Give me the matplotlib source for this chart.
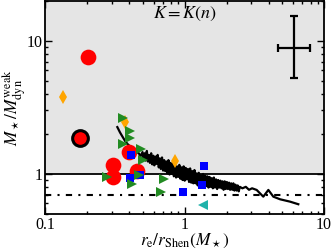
import matplotlib
matplotlib.use("Agg")
import matplotlib.pyplot as plt


# data
red_x = [0.203, 0.307, 0.307, 0.402, 0.454]
red_y = [7.58, 1.17, 0.954, 1.47, 1.05]
red_edge_x = [0.178]
red_edge_y = [1.87]

blue_x = [0.413, 0.407, 0.480, 0.971, 1.38, 1.33]
blue_y = [1.39, 0.938, 0.983, 0.732, 1.15, 0.827]

green_x = [0.360, 0.407, 0.407, 0.360, 0.485, 0.501, 0.280, 0.474, 0.423, 0.713, 0.679]
green_y = [2.65, 2.11, 1.86, 1.67, 1.53, 1.27, 0.954, 0.983, 0.837, 0.917, 0.726]

orange_x = [0.135, 0.374, 0.855]
orange_y = [3.81, 2.47, 1.25]

cyan_x = [1.35]
cyan_y = [0.585]

# the noisy black curve
curve_x = [0.330, 0.345, 0.360, 0.375, 0.390, 0.410, 0.430, 0.450, 0.470, 0.485,
           0.500, 0.509, 0.518, 0.527, 0.537, 0.547, 0.556, 0.566, 0.577, 0.587,
           0.598, 0.608, 0.619, 0.631, 0.642, 0.654, 0.665, 0.677, 0.690, 0.702,
           0.715, 0.727, 0.741, 0.754, 0.767, 0.781, 0.795, 0.810, 0.824, 0.839,
           0.854, 0.870, 0.885, 0.901, 0.918, 0.934, 0.951, 0.968, 0.986, 1.003,
           1.021, 1.040, 1.058, 1.078, 1.097, 1.117, 1.137, 1.157, 1.178, 1.199,
           1.221, 1.243, 1.265, 1.288, 1.311, 1.335, 1.359, 1.383, 1.408, 1.434,
           1.459, 1.486, 1.512, 1.540, 1.567, 1.596, 1.624, 1.653, 1.683, 1.713,
           1.744, 1.776, 1.808, 1.840, 1.873, 1.907, 1.941, 1.976, 2.012, 2.048,
           2.085, 2.122, 2.160, 2.199, 2.239, 2.279, 2.320, 2.362, 2.404, 2.447,
           2.491, 2.60, 2.75, 2.90, 3.05, 3.29, 3.67, 3.99, 4.33, 4.84,
           5.71, 6.54]
curve_y = [2.25, 2.05, 1.90, 1.77, 1.68, 1.60, 1.52, 1.47, 1.43, 1.36,
           1.46, 1.29, 1.43, 1.26, 1.49, 1.24, 1.39, 1.21, 1.43, 1.18,
           1.37, 1.16, 1.35, 1.19, 1.39, 1.12, 1.31, 1.09, 1.33, 1.06,
           1.27, 1.05, 1.24, 1.01, 1.27, 0.99, 1.21, 1.00, 1.20, 0.96,
           1.19, 0.94, 1.14, 0.95, 1.17, 0.92, 1.12, 0.90, 1.14, 0.89,
           1.11, 0.91, 1.09, 0.87, 1.10, 0.86, 1.05, 0.85, 1.07, 0.85,
           1.01, 0.82, 1.02, 0.81, 0.98, 0.83, 1.00, 0.80, 0.97, 0.81,
           0.96, 0.79, 0.95, 0.80, 0.93, 0.78, 0.94, 0.79, 0.91, 0.77,
           0.90, 0.79, 0.89, 0.78, 0.88, 0.76, 0.88, 0.77, 0.87, 0.77,
           0.86, 0.76, 0.85, 0.76, 0.85, 0.75, 0.83, 0.75, 0.82, 0.74,
           0.80, 0.78, 0.80, 0.76, 0.78, 0.758, 0.675, 0.758, 0.675, 0.645,
           0.619, 0.592]

# typical error bar, drawn as a cross
err_x = [6.06]
err_y = [8.9]
err_xlo = [6.06 - 4.66]
err_xhi = [7.94 - 6.06]
err_ylo = [8.9 - 5.25]
err_yhi = [15.5 - 8.9]

ref_line = 1.0
dashdot_line = 0.7


def main():
    plt.rcParams["font.family"] = "serif"
    plt.rcParams["font.serif"] = ["Liberation Serif", "DejaVu Serif"]
    plt.rcParams["mathtext.fontset"] = "stix"

    fig = plt.figure(figsize=(3.32, 2.49), dpi=100)
    ax = fig.add_axes([0.1355, 0.1406, 0.8405, 0.856])
    ax.set_xscale("log")
    ax.set_yscale("log")
    ax.set_xlim(0.1, 10)
    ax.set_ylim(0.5, 20)

    # grey area above 1
    ax.axhspan(ref_line, 20, color="#e5e5e5", lw=0, zorder=0)
    ax.axhline(ref_line, color="black", lw=1.3, zorder=1)
    ax.axhline(dashdot_line, color="black", lw=1.5,
               linestyle=(0, (3, 3, 1, 3)), zorder=1)

    ax.plot(curve_x, curve_y, color="black", lw=1.6, zorder=2)

    ax.plot(red_x, red_y, "o", color="red", ms=11.3, mew=0, zorder=3)
    ax.plot(red_edge_x, red_edge_y, "o", color="red", ms=11.3,
            mec="black", mew=2.2, zorder=3)
    ax.plot(orange_x, orange_y, "d", color="orange", ms=7.5, mew=0, zorder=4)
    ax.plot(blue_x, blue_y, "s", color="blue", ms=6, mew=0, zorder=5)
    ax.plot(green_x, green_y, ">", color="forestgreen", ms=7, mew=0, zorder=6)
    ax.plot(cyan_x, cyan_y, "<", color="lightseagreen", ms=6.5, mew=0, zorder=6)

    ax.errorbar(err_x, err_y, xerr=[err_xlo, err_xhi], yerr=[err_ylo, err_yhi],
                fmt="none", ecolor="black", elinewidth=1.6, capsize=3,
                capthick=1.6, zorder=6)

    ax.text(0.5, 0.94, r"$K = K(n)$", transform=ax.transAxes,
            ha="center", va="center", fontsize=13)

    ax.set_xticks([0.1, 1, 10])
    ax.set_xticklabels(["0.1", "1", "10"])
    ax.set_yticks([1, 10])
    ax.set_yticklabels(["1", "10"])
    ax.tick_params(which="both", direction="in", top=True, right=True,
                   labelsize=11.5, width=1.0)
    ax.tick_params(which="major", length=5, pad=2)
    ax.tick_params(which="minor", length=2.5)
    for side in ax.spines.values():
        side.set_linewidth(1.3)

    ax.set_xlabel(r"$r_{\rm e}/r_{\rm Shen}(M_\star)$", fontsize=12.5, labelpad=-1)
    ax.set_ylabel(r"$M_\star/M_{\rm dyn}^{\rm weak}$", fontsize=12.5, labelpad=-1)

    fig.savefig("out.png", dpi=100)


if __name__ == "__main__":
    main()
